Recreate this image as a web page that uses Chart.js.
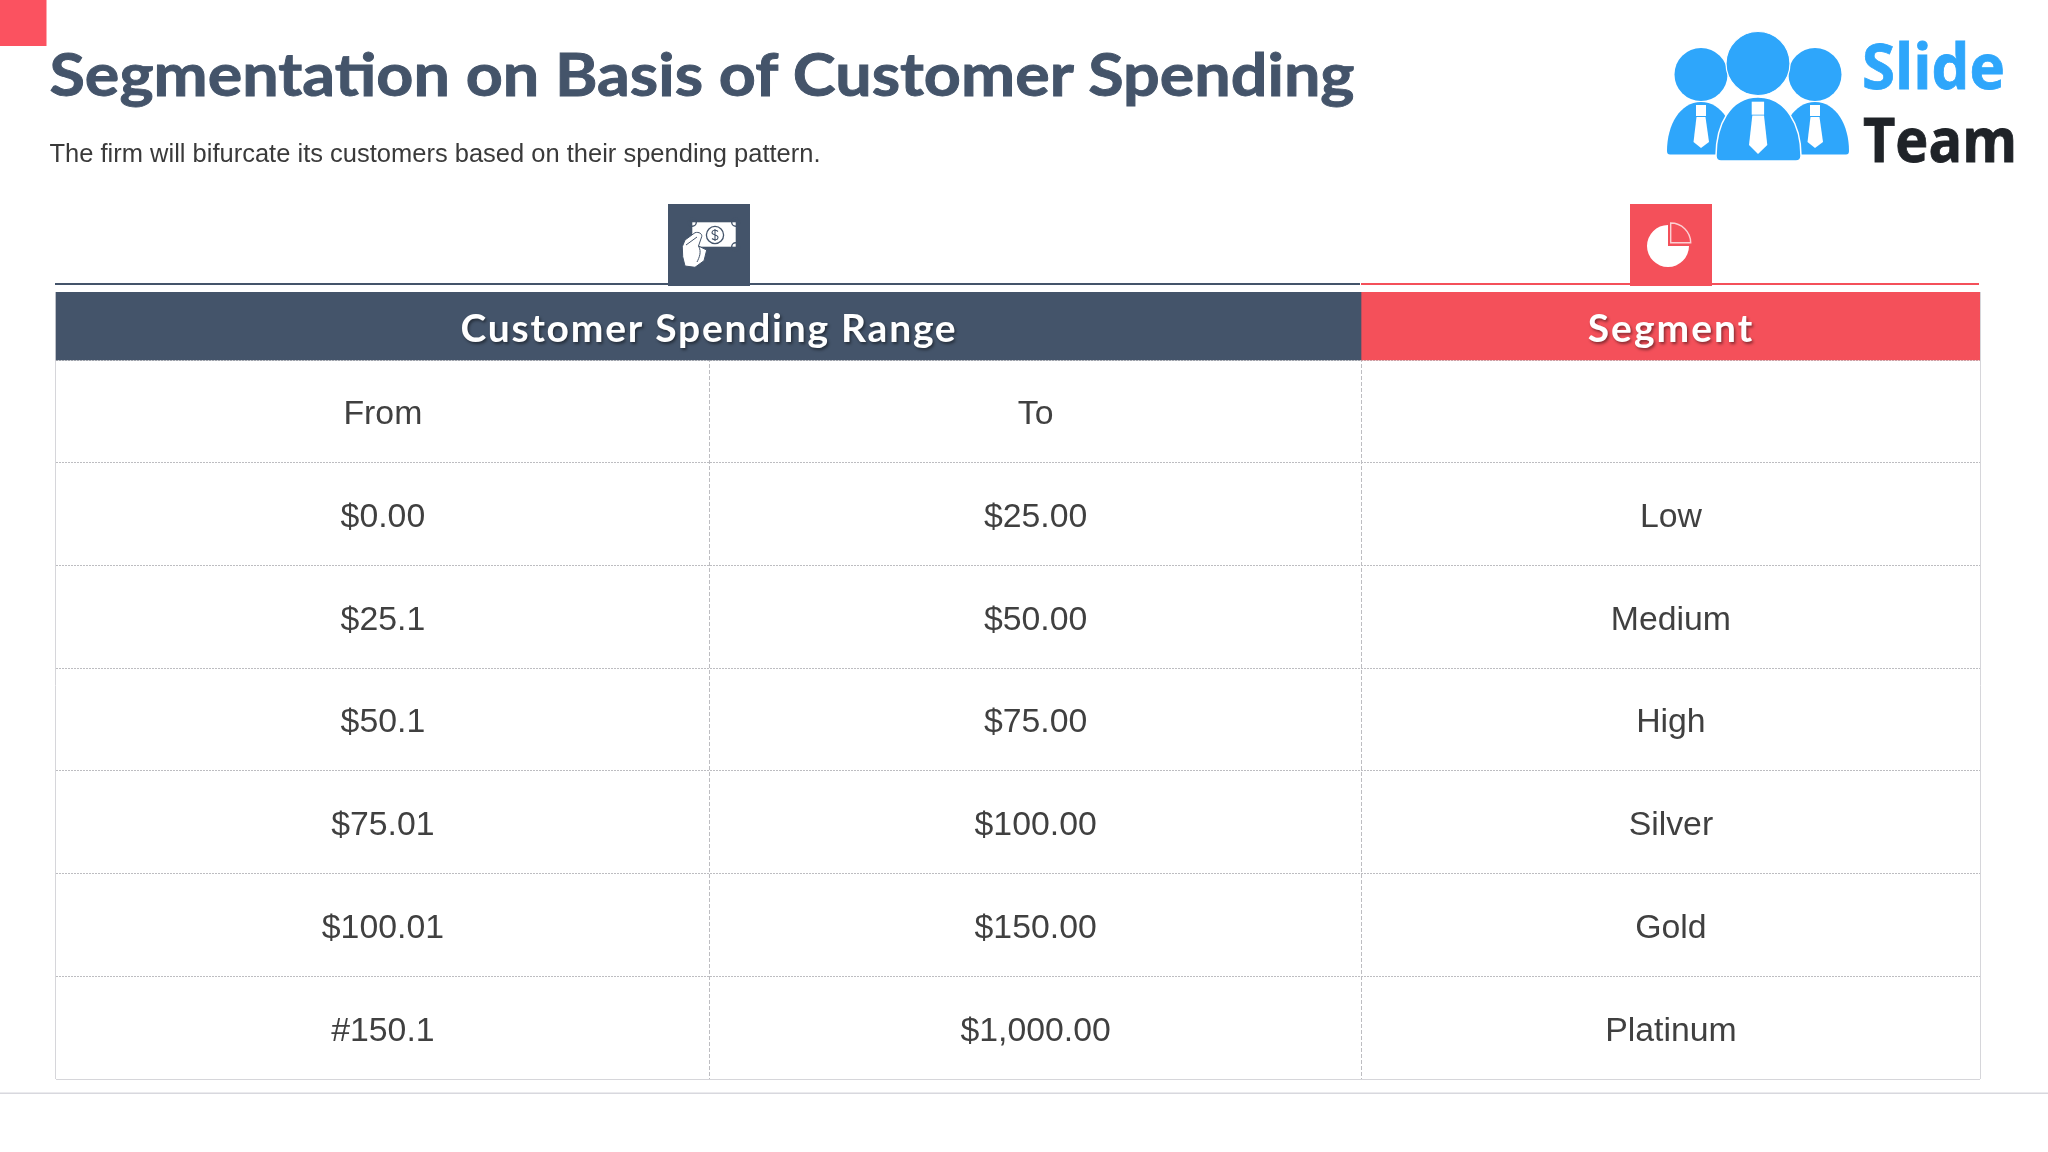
<!DOCTYPE html>
<html>
<head>
<meta charset="utf-8">
<style>
html,body{margin:0;padding:0;background:#fff;width:2048px;height:1152px;overflow:hidden}
#wrap{position:relative;width:2048px;height:1152px}
canvas{position:absolute;left:0;top:0}
svg{position:absolute;left:0;top:0}
</style>
<script src="https://cdn.jsdelivr.net/npm/chart.js@4/dist/chart.umd.js"></script>
</head>
<body>
<div id="wrap">
<canvas id="c" width="2048" height="1152"></canvas>
<svg width="2048" height="1152" viewBox="0 0 2048 1152">
  <rect x="0" y="0" width="46.5" height="46" fill="#fb5260"/>
  <text x="49.5" y="96" font-family="Lato" font-weight="700" font-size="59" fill="#44546a" stroke="#44546a" stroke-width="0.9" textLength="1305" lengthAdjust="spacingAndGlyphs">Segmentation on Basis of Customer Spending</text>
  <text x="49.5" y="162" font-family="Liberation Sans" font-size="25" fill="#3a3a3a" textLength="771" lengthAdjust="spacingAndGlyphs">The firm will bifurcate its customers based on their spending pattern.</text>

  <!-- rules above the header -->
  <rect x="55" y="283" width="1305" height="2" fill="#44546a"/>
  <rect x="1361" y="283" width="618" height="2" fill="#f4505a"/>
  <rect x="0" y="1092.5" width="2048" height="1.5" fill="#d8d8de"/>

  <!-- money icon -->
  <rect x="668" y="204" width="82" height="82" fill="#44546a"/>
  <rect x="692.3" y="222.3" width="43.4" height="24.4" fill="#fff"/>
  <circle cx="692.3" cy="222.3" r="4" fill="none" stroke="#44546a" stroke-width="1.4"/>
  <circle cx="735.7" cy="222.3" r="4" fill="none" stroke="#44546a" stroke-width="1.4"/>
  <circle cx="735.7" cy="246.7" r="4" fill="none" stroke="#44546a" stroke-width="1.4"/>
  <circle cx="715" cy="235" r="8.6" fill="none" stroke="#44546a" stroke-width="1.3"/>
  <path d="M718 231.5 C716 229.5 712 230 712 232.6 C712 235.6 718 234.4 718 237.4 C718 240 714 240.5 712 238.5 M715 229 V241" fill="none" stroke="#44546a" stroke-width="1.1"/>
  <path d="M682.3 246.7 L685 240 L695 232.7 C699 231.5 702.5 234 701.7 236.7 L698.5 246 L706.7 250 L704 260.7 L695 267.3 L685 266 L682.7 256.7 Z" fill="#fff" stroke="#44546a" stroke-width="1"/>
  <path d="M686 245 L697 237" fill="none" stroke="#44546a" stroke-width="1"/>
  <path d="M698.5 246 C702 252 699 258 697 262" fill="none" stroke="#44546a" stroke-width="1"/>

  <!-- pie icon -->
  <rect x="1630" y="204" width="82" height="82" fill="#f4505a"/>
  <path d="M1668 246 V225 A21 21 0 1 0 1689 246 Z" fill="#fff"/>
  <path d="M1670.7 242.7 V223 A20 20 0 0 1 1690.7 242.7 Z" fill="none" stroke="#fbd0d3" stroke-width="1.4"/>

  <!-- logo -->
  <g fill="#2ea6fb">
    <circle cx="1701" cy="74.5" r="26.5"/>
    <circle cx="1815" cy="74.5" r="26.5"/>
    <path d="M1667 151 C1667 125 1680 102 1701 102 C1722 102 1735 125 1735 151 L1735 154.5 L1670 154.5 Q1667 154.5 1667 151 Z"/>
    <path d="M1849 151 C1849 125 1836 102 1815 102 C1794 102 1781 125 1781 151 L1781 154.5 L1846 154.5 Q1849 154.5 1849 151 Z"/>
    <circle cx="1758" cy="63.5" r="32" stroke="#fff" stroke-width="1.2"/>
    <path d="M1716 156 C1716 125 1730 97 1758 97 C1786 97 1801 125 1801 156 Q1801 161 1796 161 L1721 161 Q1716 161 1716 156 Z" stroke="#fff" stroke-width="1.5"/>
  </g>
  <g fill="#fff">
    <rect x="1696" y="105" width="10" height="11"/>
    <path d="M1696.5 117 H1705.5 L1709 142 L1701 148 L1693.5 142 Z"/>
    <rect x="1810" y="105" width="10" height="11"/>
    <path d="M1810.5 117 H1819.5 L1823 142 L1815 148 L1807.5 142 Z"/>
    <rect x="1751.7" y="101.7" width="12.4" height="13"/>
    <path d="M1752.3 115.5 H1764 L1767.3 145 L1758 154 L1749 145 Z"/>
  </g>
  <text x="1862" y="89" font-family="Open Sans" font-weight="700" font-size="62" fill="#2ea6fb" stroke="#2ea6fb" stroke-width="0.8" textLength="143" lengthAdjust="spacingAndGlyphs">Slide</text>
  <text x="1863" y="162" font-family="Open Sans" font-weight="700" font-size="61" fill="#1f2328" stroke="#1f2328" stroke-width="0.8" textLength="154" lengthAdjust="spacingAndGlyphs">Team</text>
</svg>
</div>
<script>
// ---- table content ----
const headerLabels = ['Customer Spending Range', 'Segment'];
const fromLabels = ['From', '$0.00', '$25.1', '$50.1', '$75.01', '$100.01', '#150.1'];
const toLabels = ['To', '$25.00', '$50.00', '$75.00', '$100.00', '$150.00', '$1,000.00'];
const segmentLabels = ['', 'Low', 'Medium', 'High', 'Silver', 'Gold', 'Platinum'];
// column boundaries along the x axis, row boundaries along the y axis
const columnEdges = [0, 654, 1305.5, 1924.5];
const rowEdges = [0, 1, 2, 3, 4, 5, 6, 7];
const headerSpan = 0.6625;

const cellColumns = [fromLabels, toLabels, segmentLabels];
const cellPoints = [];
const cellTexts = [];
cellColumns.forEach((col, c) => col.forEach((t, r) => {
  cellPoints.push({x: (columnEdges[c] + columnEdges[c + 1]) / 2, y: rowEdges[r] + 0.5});
  cellTexts.push(t);
}));

const tablePlugin = {
  id: 'tableText',
  afterDatasetsDraw(chart) {
    const ctx = chart.ctx;
    ctx.save();
    ctx.textAlign = 'center';
    ctx.textBaseline = 'middle';
    // header captions, centred on their bars
    ctx.font = '700 39px Lato';
    ctx.fillStyle = '#ffffff';
    ctx.shadowColor = 'rgba(0,0,0,0.45)';
    ctx.shadowBlur = 3; ctx.shadowOffsetX = 1.5; ctx.shadowOffsetY = 2;
    [0, 1].forEach(i => {
      const el = chart.getDatasetMeta(i).data[0];
      ctx.letterSpacing = i === 0 ? '1.75px' : '2px';
      ctx.fillText(headerLabels[i], (el.x + el.base) / 2 + 0.5, el.y + 3);
    });
    ctx.shadowColor = 'transparent';
    ctx.shadowBlur = 0; ctx.shadowOffsetX = 0; ctx.shadowOffsetY = 0;
    ctx.letterSpacing = '0px';
    // cell captions, at the points of the cell dataset
    ctx.font = '33.8px "Liberation Sans"';
    ctx.fillStyle = '#404040';
    chart.getDatasetMeta(2).data.forEach((pt, i) => {
      if (cellTexts[i]) ctx.fillText(cellTexts[i], pt.x + 0.4, pt.y + 3.6);
    });
    ctx.restore();
  }
};

const lastCol = columnEdges.length - 1;
new Chart(document.getElementById('c'), {
  type: 'bar',
  plugins: [tablePlugin],
  data: {
    datasets: [
      {label: headerLabels[0], data: [{x: [columnEdges[0], columnEdges[2]], y: -headerSpan / 2}],
       backgroundColor: '#44546a', barThickness: 68, grouped: false, order: 2},
      {label: headerLabels[1], data: [{x: [columnEdges[2], columnEdges[3]], y: -headerSpan / 2}],
       backgroundColor: '#f4505a', barThickness: 68, grouped: false, order: 2},
      {type: 'scatter', label: 'cells', data: cellPoints, pointRadius: 0, showLine: false, order: 1}
    ]
  },
  options: {
    indexAxis: 'y',
    responsive: false,
    animation: false,
    devicePixelRatio: 1,
    layout: {padding: {left: 55.5, right: 68, top: 292, bottom: 73}},
    plugins: {legend: {display: false}, title: {display: false}, tooltip: {enabled: false}},
    scales: {
      x: {
        type: 'linear', min: columnEdges[0], max: columnEdges[lastCol],
        afterBuildTicks: s => { s.ticks = columnEdges.map(v => ({value: v})); },
        ticks: {display: false},
        grid: {
          drawTicks: false, offset: false, lineWidth: 1,
          color: c => (c.index === 0 || c.index === lastCol) ? '#d6d6da' : '#bdbdc1'
        },
        border: {display: false, dash: c => (c.index === 0 || c.index === lastCol) ? [] : [4, 2]}
      },
      y: {
        type: 'linear', reverse: true, offset: false,
        min: -headerSpan, max: rowEdges[rowEdges.length - 1],
        afterBuildTicks: s => { s.ticks = rowEdges.map(v => ({value: v})); },
        ticks: {display: false},
        grid: {
          drawTicks: false, offset: false, lineWidth: 1,
          color: c => c.index === rowEdges.length - 1 ? '#d6d6da' : '#bdbdc1'
        },
        border: {display: false, dash: c => c.index === rowEdges.length - 1 ? [] : [2, 1]}
      }
    }
  }
});
</script>
</body>
</html>
